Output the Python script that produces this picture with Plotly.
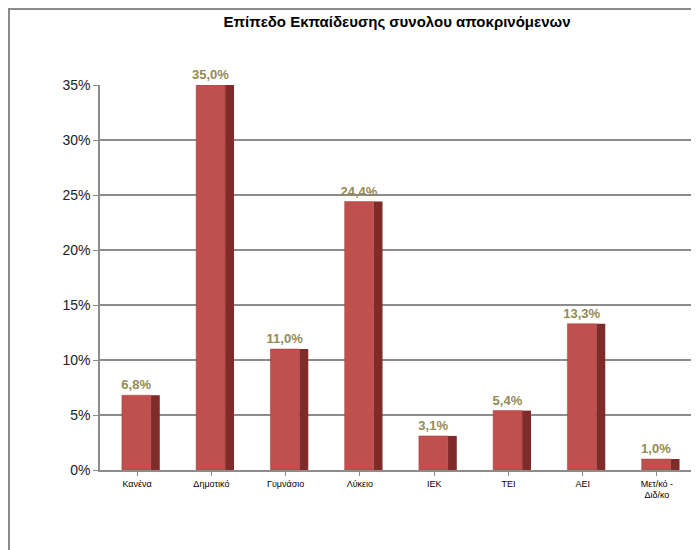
import plotly.graph_objects as go

# Education level of respondents (share, %)
categories = ["Κανένα", "Δημοτικό", "Γυμνάσιο", "Λύκειο", "ΙΕΚ", "ΤΕΙ", "ΑΕΙ",
              "Μετ/κό -<br>Διδ/κο"]
shares = [6.8, 35.0, 11.0, 24.4, 3.1, 5.4, 13.3, 1.0]
y_ticks = [0, 5, 10, 15, 20, 25, 30, 35]
y_tick_text = ["0%", "5%", "10%", "15%", "20%", "25%", "30%", "35%"]

W, H = 699, 550
# the page body adds an 8px margin, so margins are set with that in mind
L, R, T, B = 92, 13, 77, 88

fig = go.Figure()

# darker side face to hint at the 3D look of the original
fig.add_trace(go.Bar(
    x=categories, y=shares,
    width=0.12, offset=0.185,
    marker=dict(color="#7f2b29", line=dict(width=0)),
    hoverinfo="skip", showlegend=False))

# front face with value labels
fig.add_trace(go.Bar(
    x=categories, y=shares,
    width=0.39, offset=-0.205,
    marker=dict(color="#c0504d", line=dict(color="#a53f3c", width=0.5)),
    texttemplate="<b>%{y:.1f}%</b>", textposition="outside", cliponaxis=False,
    textfont=dict(family="Arial", size=13, color="#948a54"),
    showlegend=False))

# chart border: only top and left edges are inside the window
pw = W - L - R
ph = H - T - B
fig.add_shape(type="rect", xref="paper", yref="paper",
              x0=(1 - L) / pw, x1=(W + 20 - L) / pw,
              y0=-(H + 20 - (H - B)) / ph, y1=1 + (T - 1) / ph,
              line=dict(color="#8c8c8c", width=2), layer="above")

fig.update_layout(
    width=W, height=H,
    margin=dict(l=L, r=R, t=T, b=B),
    paper_bgcolor="white", plot_bgcolor="white",
    separators=",.",
    barmode="overlay",
    uniformtext=dict(minsize=13, mode="show"),
    title=dict(text="<b>Επίπεδο Εκπαίδευσης συνολου αποκρινόμενων</b>",
               x=0.5, xref="paper", y=1 - 14 / H, yanchor="middle",
               font=dict(family="Arial", size=15, color="black")),
    font=dict(family="Arial", color="black"),
)

fig.update_yaxes(
    range=[0, 35], tickvals=y_ticks, ticktext=y_tick_text,
    showgrid=True, gridcolor="#8c8c8c", gridwidth=1.5,
    showline=True, linecolor="#8c8c8c", linewidth=1.5,
    ticks="outside", ticklen=5, tickcolor="#8c8c8c",
    tickfont=dict(family="Arial", size=14, color="#222222"),
    zeroline=False)

fig.update_xaxes(
    showline=True, linecolor="#8c8c8c", linewidth=1.5,
    ticks="outside", ticklen=4, tickcolor="#8c8c8c",
    tickfont=dict(family="Arial", size=9, color="black"),
    tickangle=0)

fig.write_html("out.html")
